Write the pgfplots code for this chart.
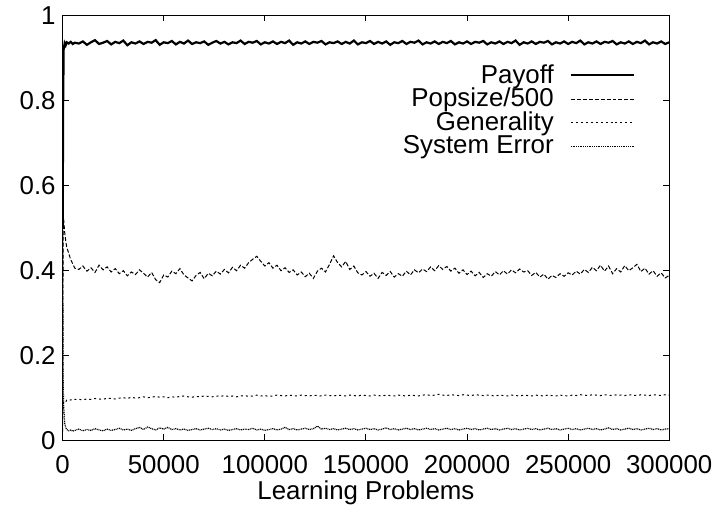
\documentclass[border=0pt]{standalone}
\usepackage{fontspec}
\setmainfont{Liberation Sans}
\usepackage{pgfplots}
\pgfplotsset{compat=1.18}
\usepackage{pgfplotstable}

% x  payoff  popsize/500  generality  syserror
\pgfplotstableread{
x pay pop gen err
0 0.500 0.020 0.050 0.500
250 0.800 0.530 0.080 0.140
500 0.920 0.520 0.090 0.080
1000 0.935 0.490 0.092 0.040
1500 0.930 0.470 0.090 0.030
2000 0.937 0.455 0.094 0.025
3000 0.934 0.440 0.093 0.022
4000 0.938 0.425 0.095 0.024
5000 0.933 0.415 0.094 0.021
6000 0.936 0.405 0.096 0.023
8000 0.934 0.402 0.096 0.026
10000 0.939 0.410 0.095 0.022
12000 0.931 0.398 0.097 0.025
14000 0.937 0.406 0.096 0.023
16000 0.942 0.395 0.098 0.027
18000 0.933 0.412 0.097 0.024
20000 0.936 0.401 0.096 0.022
22000 0.940 0.408 0.099 0.026
24000 0.932 0.396 0.098 0.023
26000 0.938 0.404 0.097 0.025
28000 0.935 0.392 0.099 0.028
30000 0.941 0.399 0.100 0.024
32000 0.930 0.387 0.098 0.026
34000 0.937 0.396 0.101 0.023
36000 0.934 0.390 0.099 0.027
38000 0.939 0.401 0.100 0.030
40000 0.933 0.393 0.102 0.025
42000 0.938 0.384 0.100 0.031
44000 0.936 0.395 0.101 0.027
46000 0.942 0.378 0.103 0.024
48000 0.931 0.371 0.101 0.029
50000 0.937 0.389 0.102 0.026
52000 0.935 0.384 0.100 0.030
54000 0.940 0.398 0.102 0.025
56000 0.932 0.392 0.101 0.027
58000 0.938 0.404 0.103 0.024
60000 0.934 0.389 0.104 0.026
62000 0.941 0.382 0.102 0.023
64000 0.933 0.375 0.101 0.025
66000 0.937 0.388 0.103 0.027
68000 0.935 0.395 0.102 0.024
70000 0.939 0.380 0.104 0.026
72000 0.931 0.393 0.103 0.028
74000 0.936 0.387 0.102 0.025
76000 0.940 0.398 0.104 0.027
78000 0.934 0.391 0.103 0.024
80000 0.938 0.402 0.105 0.026
82000 0.932 0.394 0.103 0.023
84000 0.937 0.407 0.104 0.025
86000 0.935 0.399 0.102 0.027
88000 0.941 0.412 0.104 0.024
90000 0.933 0.405 0.105 0.026
92000 0.938 0.418 0.103 0.025
94000 0.936 0.426 0.104 0.028
96000 0.940 0.433 0.106 0.024
98000 0.932 0.421 0.104 0.026
100000 0.937 0.410 0.105 0.023
102000 0.934 0.418 0.103 0.025
104000 0.939 0.405 0.104 0.027
106000 0.933 0.412 0.106 0.024
108000 0.938 0.399 0.105 0.026
110000 0.935 0.406 0.104 0.030
112000 0.941 0.395 0.106 0.025
114000 0.931 0.401 0.105 0.027
116000 0.937 0.389 0.104 0.024
118000 0.934 0.396 0.106 0.026
120000 0.939 0.385 0.105 0.028
122000 0.933 0.393 0.104 0.025
124000 0.938 0.381 0.106 0.027
126000 0.936 0.398 0.105 0.033
128000 0.940 0.405 0.104 0.026
130000 0.932 0.396 0.106 0.028
132000 0.937 0.414 0.105 0.025
134000 0.935 0.434 0.104 0.027
136000 0.939 0.418 0.106 0.024
138000 0.933 0.408 0.105 0.026
140000 0.938 0.421 0.104 0.028
142000 0.934 0.402 0.106 0.025
144000 0.941 0.410 0.105 0.027
146000 0.932 0.394 0.104 0.024
148000 0.937 0.389 0.106 0.026
150000 0.935 0.397 0.105 0.028
152000 0.940 0.386 0.104 0.025
154000 0.933 0.393 0.106 0.027
156000 0.938 0.381 0.105 0.024
158000 0.934 0.395 0.104 0.026
160000 0.939 0.388 0.106 0.029
162000 0.931 0.397 0.105 0.025
164000 0.937 0.384 0.104 0.027
166000 0.935 0.392 0.106 0.024
168000 0.940 0.386 0.105 0.026
170000 0.933 0.398 0.104 0.028
172000 0.938 0.389 0.106 0.025
174000 0.936 0.401 0.105 0.027
176000 0.941 0.394 0.104 0.024
178000 0.932 0.403 0.106 0.026
180000 0.937 0.397 0.107 0.028
182000 0.934 0.408 0.105 0.025
184000 0.939 0.399 0.106 0.027
186000 0.933 0.411 0.108 0.024
188000 0.938 0.402 0.106 0.026
190000 0.935 0.409 0.105 0.028
192000 0.940 0.398 0.107 0.025
194000 0.932 0.405 0.106 0.027
196000 0.937 0.393 0.105 0.024
198000 0.934 0.401 0.107 0.026
200000 0.939 0.390 0.106 0.028
202000 0.933 0.398 0.105 0.025
204000 0.938 0.387 0.107 0.027
206000 0.936 0.395 0.106 0.024
208000 0.940 0.383 0.105 0.026
210000 0.932 0.392 0.106 0.028
212000 0.937 0.386 0.105 0.025
214000 0.934 0.397 0.104 0.027
216000 0.939 0.389 0.106 0.024
218000 0.933 0.399 0.105 0.026
220000 0.938 0.391 0.104 0.028
222000 0.935 0.401 0.106 0.025
224000 0.941 0.394 0.105 0.027
226000 0.931 0.403 0.104 0.024
228000 0.937 0.396 0.106 0.026
230000 0.934 0.399 0.105 0.028
232000 0.939 0.388 0.104 0.025
234000 0.933 0.395 0.106 0.027
236000 0.938 0.384 0.105 0.024
238000 0.936 0.391 0.104 0.026
240000 0.940 0.379 0.106 0.028
242000 0.932 0.388 0.105 0.025
244000 0.937 0.383 0.104 0.027
246000 0.934 0.392 0.106 0.024
248000 0.939 0.386 0.105 0.026
250000 0.933 0.394 0.104 0.028
252000 0.938 0.389 0.106 0.025
254000 0.935 0.398 0.105 0.027
256000 0.941 0.391 0.107 0.024
258000 0.932 0.402 0.106 0.026
260000 0.937 0.395 0.105 0.028
262000 0.934 0.407 0.107 0.025
264000 0.939 0.399 0.106 0.027
266000 0.933 0.412 0.105 0.024
268000 0.938 0.398 0.107 0.026
270000 0.936 0.410 0.106 0.029
272000 0.940 0.392 0.105 0.025
274000 0.932 0.404 0.107 0.027
276000 0.937 0.396 0.106 0.024
278000 0.934 0.411 0.105 0.026
280000 0.939 0.399 0.107 0.028
282000 0.933 0.406 0.106 0.025
284000 0.938 0.414 0.105 0.027
286000 0.935 0.397 0.107 0.024
288000 0.941 0.405 0.106 0.026
290000 0.932 0.391 0.105 0.028
292000 0.937 0.399 0.107 0.025
294000 0.934 0.386 0.106 0.027
296000 0.939 0.394 0.105 0.024
298000 0.933 0.382 0.107 0.026
300000 0.937 0.388 0.106 0.027
}\data

\begin{document}
\begin{tikzpicture}
\begin{axis}[
  scale only axis,
  width=305pt, height=213.5pt,
  xmin=0, xmax=300000, ymin=0, ymax=1,
  xtick={0,50000,100000,150000,200000,250000,300000},
  ytick={0,0.2,0.4,0.6,0.8,1},
  scaled x ticks=false,
  xticklabel style={/pgf/number format/fixed, /pgf/number format/1000 sep={}, yshift=-4pt},
  /pgf/number format/assume math mode=true,
  tick align=inside,
  major tick length=3pt,
  tick style={black, line width=0.5pt},
  axis line style={line width=0.5pt},
  tick label style={font=\fontsize{13}{15}\selectfont},
  label style={font=\fontsize{13}{15}\selectfont},
  xlabel={Learning Problems},
  xlabel style={yshift=3pt},
  legend cell align=right,
  legend plot pos=right,
  legend style={draw=none, fill=none, at={(0.945,0.895)}, anchor=north east,
    font=\fontsize{13}{15}\selectfont, row sep=-3pt, column sep=6pt, inner sep=0pt},
  legend image code/.code={\draw[#1] (0pt,0pt) -- (32pt,0pt);},
]
\addplot[black, line width=1.1pt] table[x=x, y=pay] {\data};
\addlegendentry{Payoff}
\addplot[black, line width=0.5pt, dash pattern=on 2pt off 1pt] table[x=x, y=pop] {\data};
\addlegendentry{Popsize/500}
\addplot[black, line width=0.5pt, dash pattern=on 1pt off 1.5pt] table[x=x, y=gen] {\data};
\addlegendentry{Generality}
\addplot[black, line width=0.6pt, dash pattern=on 0.5pt off 0.4pt] table[x=x, y=err] {\data};
\addlegendentry{System Error}
\end{axis}
\path (current axis.south west) ++(-31.5pt,0pt);
\end{tikzpicture}
\end{document}
